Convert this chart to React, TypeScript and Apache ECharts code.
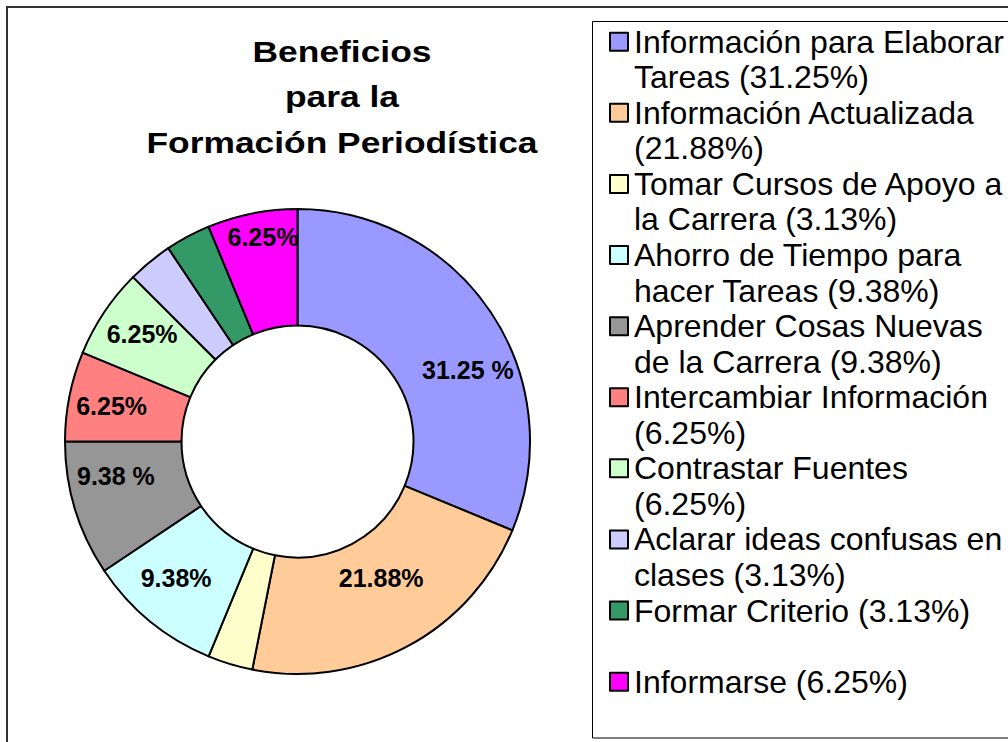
import React, { useEffect, useRef } from "react";
import * as echarts from "echarts";

const titleLines = ["Beneficios", "para la", "Formación Periodística"];

const categories = [
  "Información para Elaborar Tareas",
  "Información Actualizada",
  "Tomar Cursos de Apoyo a la Carrera",
  "Ahorro de Tiempo para hacer Tareas",
  "Aprender Cosas Nuevas de la Carrera",
  "Intercambiar Información",
  "Contrastar Fuentes",
  "Aclarar ideas confusas en clases",
  "Formar Criterio",
  "Informarse",
];

const values = [31.25, 21.88, 3.13, 9.38, 9.38, 6.25, 6.25, 3.13, 3.13, 6.25];

const sliceLabels = ["31.25 %", "21.88%", "", "9.38%", "9.38 %", "6.25%", "6.25%", "", "", "6.25%"];

const legendLabels = [
  "Información para Elaborar\nTareas (31.25%)",
  "Información Actualizada\n(21.88%)",
  "Tomar Cursos de Apoyo a\nla Carrera (3.13%)",
  "Ahorro de Tiempo para\nhacer Tareas (9.38%)",
  "Aprender Cosas Nuevas\nde la Carrera (9.38%)",
  "Intercambiar Información\n(6.25%)",
  "Contrastar Fuentes\n(6.25%)",
  "Aclarar ideas confusas en\nclases (3.13%)",
  "Formar Criterio (3.13%)\n",
  "Informarse (6.25%)\n",
];

const colors = [
  "#9999FF",
  "#FFCC99",
  "#FFFFCC",
  "#CCFFFF",
  "#969696",
  "#FF8080",
  "#CCFFCC",
  "#CCCCFF",
  "#339966",
  "#FF00FF",
];

// label nudges (style only)
const labelNudges = [
  [23, 27],
  [0, -20],
  [0, 0],
  [-9, -1],
  [-12, -17],
  [-12, -1],
  [-8, -9],
  [0, 0],
  [0, 0],
  [0, -31],
];

const FONT = '"Liberation Sans", Arial, sans-serif';

export default function App() {
  const ref = useRef<HTMLDivElement>(null);

  useEffect(() => {
    if (!ref.current) return;
    const chart = echarts.init(ref.current, undefined, { renderer: "svg" });
    chart.setOption({
      animation: false,
      backgroundColor: "#ffffff",
      graphic: [
        {
          type: "rect",
          silent: true,
          shape: { x: 7, y: 7, width: 1100, height: 800 },
          style: { fill: "none", stroke: "#333", lineWidth: 2 },
        },
        {
          type: "rect",
          silent: true,
          shape: { x: 592.5, y: 21.5, width: 500, height: 716.5 },
          style: { fill: "none", stroke: "#000", lineWidth: 1 },
        },
        {
          type: "text",
          silent: true,
          x: 342,
          y: 29,
          scaleX: 1.22,
          style: {
            text: titleLines.join("\n"),
            fontSize: 29,
            fontWeight: "bold",
            fontFamily: FONT,
            align: "center",
            verticalAlign: "top",
            lineHeight: 45.6,
            fill: "#000",
          },
        },
      ],
      legend: {
        orient: "vertical",
        left: 608,
        top: 23,
        height: 800,
        padding: 0,
        itemGap: -1.9,
        itemWidth: 20,
        itemHeight: 71,
        icon: "path://M1,8.75L19,8.75L19,26.75L1,26.75Z M0,0L0,0 M20,71L20,71",
        itemStyle: { borderColor: "#000", borderWidth: 2 },
        selectedMode: false,
        textStyle: {
          fontSize: 32,
          fontFamily: FONT,
          color: "#000",
          lineHeight: 35.5,
        },
        formatter: (name: string) => legendLabels[categories.indexOf(name)],
        data: categories,
      },
      series: [
        {
          type: "pie",
          center: [297.5, 441.5],
          radius: [116, 232.5],
          startAngle: 90,
          clockwise: true,
          avoidLabelOverlap: false,
          emphasis: { disabled: true },
          itemStyle: { borderColor: "#000", borderWidth: 2 },
          label: {
            show: true,
            position: "inside",
            color: "#000",
            fontSize: 25,
            fontWeight: "bold",
            fontFamily: FONT,
            formatter: (p: any) => sliceLabels[p.dataIndex],
          },
          labelLine: { show: false },
          labelLayout: (p: any) => ({
            dx: labelNudges[p.dataIndex][0],
            dy: labelNudges[p.dataIndex][1],
          }),
          data: categories.map((name, i) => ({
            name,
            value: values[i],
            itemStyle: { color: colors[i] },
          })),
        },
      ],
    });
    return () => chart.dispose();
  }, []);

  return (
    <div
      ref={ref}
      style={{ position: "fixed", left: 0, top: 0, width: 1008, height: 742, background: "#fff" }}
    />
  );
}
